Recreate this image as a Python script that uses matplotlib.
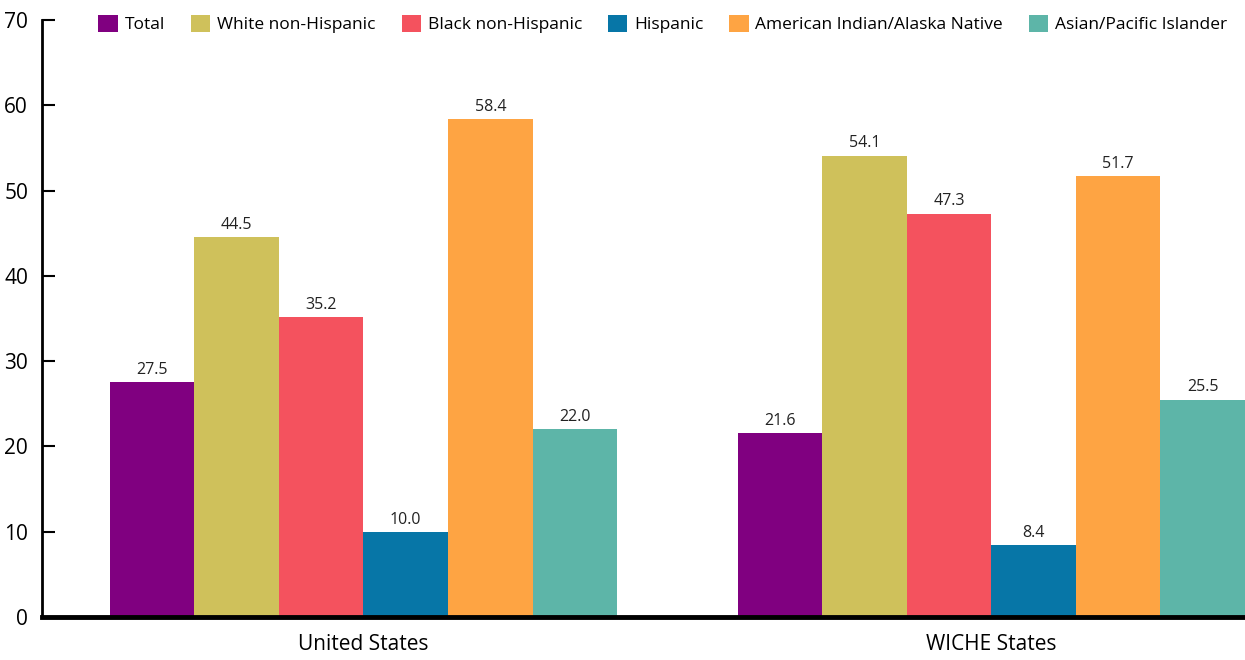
import matplotlib
matplotlib.use("Agg")
import matplotlib.pyplot as plt
import numpy as np

plt.rcParams['font.family'] = ['Open Sans', 'DejaVu Sans']

regions = ["United States", "WICHE States"]
groups = ["Total", "White non-Hispanic", "Black non-Hispanic", "Hispanic",
          "American Indian/Alaska Native", "Asian/Pacific Islander"]
values = {
    "Total": [27.5, 21.6],
    "White non-Hispanic": [44.5, 54.1],
    "Black non-Hispanic": [35.2, 47.3],
    "Hispanic": [10.0, 8.4],
    "American Indian/Alaska Native": [58.4, 51.7],
    "Asian/Pacific Islander": [22.0, 25.5],
}
colors = ["#800080", "#cfc15b", "#f4525e", "#0776a7", "#fea443", "#5db5a8"]

fig = plt.figure(figsize=(12.45, 6.6), dpi=100)
ax = fig.add_axes([0.0337, 0.0652, 0.9663, 0.9045])

x = np.arange(len(regions))
w = 0.1347
for i, g in enumerate(groups):
    pos = x + (i - 2.5) * w
    bars = ax.bar(pos, values[g], w, color=colors[i], label=g, zorder=2)
    ax.bar_label(bars, labels=[f"{v:.1f}" for v in values[g]], padding=3,
                 fontsize=11.5, color="#222222")

ax.set_xlim(-0.512, 1.404)
ax.set_ylim(0, 70)
ax.set_yticks(range(0, 71, 10))
ax.set_xticks(x)
ax.set_xticklabels(regions, fontsize=15)
ax.tick_params(axis='x', length=0, pad=12)
ax.tick_params(axis='y', direction='in', length=9, width=1.5, labelsize=15, pad=10)

for s in ["top", "right"]:
    ax.spines[s].set_visible(False)
ax.spines["left"].set_linewidth(2)
ax.spines["bottom"].set_linewidth(3.5)
ax.spines["bottom"].set_zorder(3)

ax.legend(loc="center left", bbox_to_anchor=(0.047, 0.993), ncol=6, frameon=False,
          fontsize=12.5, handlelength=1.1, handleheight=1.1, handletextpad=0.4,
          columnspacing=1.5, borderaxespad=0, borderpad=0)

fig.savefig("out.png", dpi=100)
